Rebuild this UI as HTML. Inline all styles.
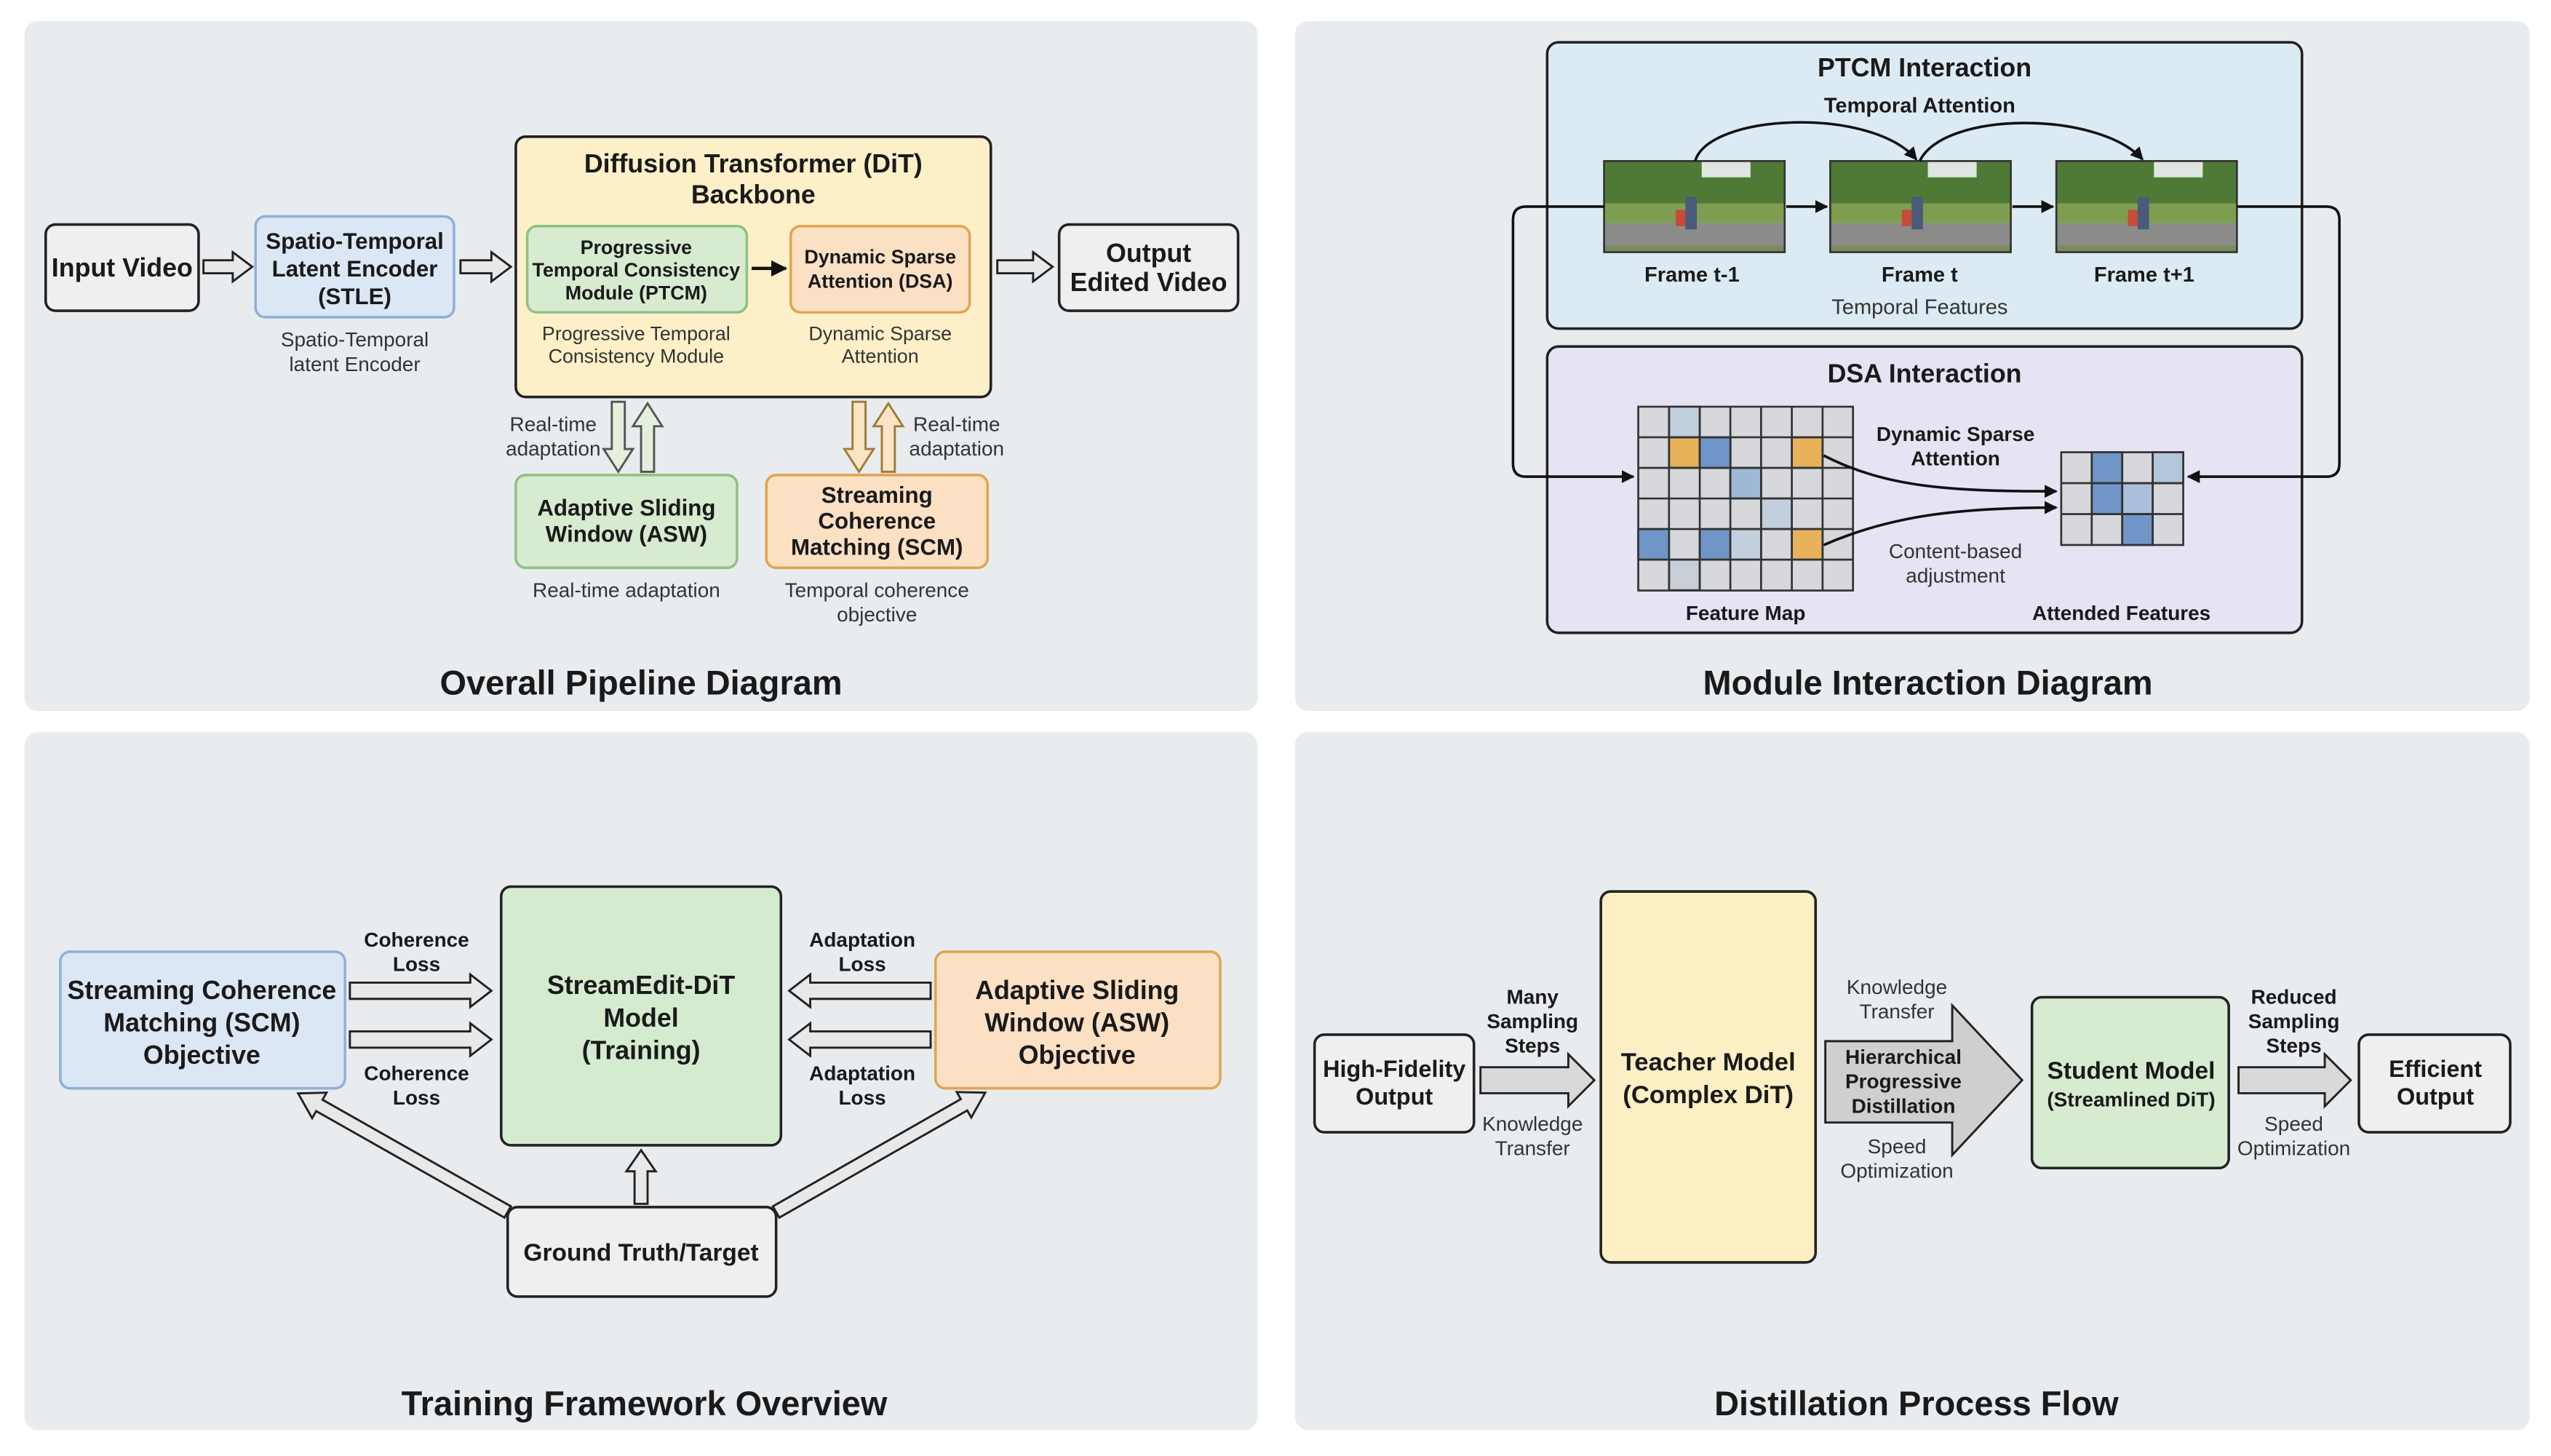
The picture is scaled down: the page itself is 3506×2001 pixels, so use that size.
<!DOCTYPE html>
<html><head><meta charset="utf-8"><style>
html,body{margin:0;padding:0;background:#fff;}
svg{display:block;}
text{font-family:"Liberation Sans Narrow","Liberation Sans",sans-serif;fill:#1a1a1a;text-anchor:middle;}
.b{font-weight:bold;}
.n{fill:#333;}
</style></head><body>
<svg width="3506" height="2001" viewBox="0 0 1568 895" xmlns="http://www.w3.org/2000/svg">
<defs>
<marker id="ah" viewBox="0 0 10 10" refX="9" refY="5" markerWidth="5" markerHeight="5" orient="auto"><path d="M0,0 L10,5 L0,10 z" fill="#111"/></marker>
<g id="fr">
<rect x="0" y="0" width="111" height="56" fill="#d8ddd6"/>
<rect x="0" y="0" width="111" height="30" fill="#4f7a36"/>
<rect x="60" y="0" width="30" height="10" fill="#dfe6e2"/>
<rect x="0" y="26" width="111" height="12" fill="#7d9e50"/>
<rect x="0" y="38" width="111" height="18" fill="#8b8c89"/>
<rect x="0" y="52" width="111" height="4" fill="#7a8a5a"/>
<rect x="50" y="22" width="7" height="20" fill="#4a5a7a"/>
<rect x="44" y="30" width="6" height="10" fill="#c84a3a"/>
<rect x="0" y="0" width="111" height="56" fill="none" stroke="#333" stroke-width="1.2"/>
</g>
</defs>
<rect width="1568" height="895" fill="#fff"/>
<!-- panels -->
<rect x="15" y="13" width="758" height="424" rx="8" fill="#e9ecee"/>
<rect x="796" y="13" width="759" height="424" rx="8" fill="#e9ecee"/>
<rect x="15" y="450" width="758" height="429" rx="8" fill="#e9ecee"/>
<rect x="796" y="450" width="759" height="429" rx="8" fill="#e9ecee"/>

<!-- ===== Panel 1 ===== -->
<g stroke="#222" stroke-width="1.6">
<rect x="28" y="138" width="94" height="53" rx="6" fill="#efefef"/>
<rect x="157" y="133" width="122" height="62" rx="6" fill="#dbe7f5" stroke="#8fb0d8"/>
<rect x="317" y="84" width="292" height="160" rx="6" fill="#fdf0c8"/>
<rect x="324" y="139" width="135" height="53" rx="6" fill="#d6ebd0" stroke="#8fc184"/>
<rect x="486" y="139" width="110" height="53" rx="6" fill="#fbe0c4" stroke="#e0a552"/>
<rect x="651" y="138" width="110" height="53" rx="6" fill="#efefef"/>
<rect x="317" y="292" width="136" height="57" rx="6" fill="#d6ebd0" stroke="#8fc184"/>
<rect x="471" y="292" width="136" height="57" rx="6" fill="#fbe0c4" stroke="#e0a552"/>
</g>
<g fill="#e8e8e8" stroke="#222" stroke-width="1.3">
<polygon points="125,160 143,160 143,155 155,164 143,173 143,168 125,168"/>
<polygon points="283,160 302,160 302,155 314,164 302,173 302,168 283,168"/>
<polygon points="613,160 635,160 635,155 647,164 635,173 635,168 613,168"/>
</g>
<g stroke-width="1.3">
<polygon points="376,247 384,247 384,276 389,276 380,290 371,276 376,276" fill="#e4f0dc" stroke="#555"/>
<polygon points="394,290 402,290 402,262 407,262 398,248 389,262 394,262" fill="#e4f0dc" stroke="#555"/>
<polygon points="524,247 532,247 532,276 537,276 528,290 519,276 524,276" fill="#fbe3c6" stroke="#a07a3a"/>
<polygon points="542,290 550,290 550,262 555,262 546,248 537,262 542,262" fill="#fbe3c6" stroke="#a07a3a"/>
</g>
<line x1="462" y1="165" x2="483" y2="165" stroke="#111" stroke-width="2" marker-end="url(#ah)"/>
<text x="75" y="170" class="b" font-size="16">Input Video</text>
<text x="218" y="153" class="b" font-size="14">Spatio-Temporal</text>
<text x="218" y="170" class="b" font-size="14">Latent Encoder</text>
<text x="218" y="187" class="b" font-size="14">(STLE)</text>
<text x="218" y="213" class="n" font-size="12.5">Spatio-Temporal</text>
<text x="218" y="228" class="n" font-size="12.5">latent Encoder</text>
<text x="463" y="106" class="b" font-size="16">Diffusion Transformer (DiT)</text>
<text x="463" y="125" class="b" font-size="16">Backbone</text>
<text x="391" y="156" class="b" font-size="12">Progressive</text>
<text x="391" y="170" class="b" font-size="12">Temporal Consistency</text>
<text x="391" y="184" class="b" font-size="12">Module (PTCM)</text>
<text x="541" y="162" class="b" font-size="12">Dynamic Sparse</text>
<text x="541" y="177" class="b" font-size="12">Attention (DSA)</text>
<text x="391" y="209" class="n" font-size="12">Progressive Temporal</text>
<text x="391" y="223" class="n" font-size="12">Consistency Module</text>
<text x="541" y="209" class="n" font-size="12">Dynamic Sparse</text>
<text x="541" y="223" class="n" font-size="12">Attention</text>
<text x="706" y="161" class="b" font-size="16">Output</text>
<text x="706" y="179" class="b" font-size="16">Edited Video</text>
<text x="340" y="265" class="n" font-size="12.5">Real-time</text>
<text x="340" y="280" class="n" font-size="12.5">adaptation</text>
<text x="588" y="265" class="n" font-size="12.5">Real-time</text>
<text x="588" y="280" class="n" font-size="12.5">adaptation</text>
<text x="385" y="317" class="b" font-size="14">Adaptive Sliding</text>
<text x="385" y="333" class="b" font-size="14">Window (ASW)</text>
<text x="539" y="309" class="b" font-size="14">Streaming</text>
<text x="539" y="325" class="b" font-size="14">Coherence</text>
<text x="539" y="341" class="b" font-size="14">Matching (SCM)</text>
<text x="385" y="367" class="n" font-size="12.5">Real-time adaptation</text>
<text x="539" y="367" class="n" font-size="12.5">Temporal coherence</text>
<text x="539" y="382" class="n" font-size="12.5">objective</text>
<text x="394" y="427" class="b" font-size="21">Overall Pipeline Diagram</text>

<!-- ===== Panel 2 ===== -->
<rect x="951" y="26" width="464" height="176" rx="7" fill="#dcebf3" stroke="#222" stroke-width="1.6"/>
<rect x="951" y="213" width="464" height="176" rx="7" fill="#e6e3f2" stroke="#222" stroke-width="1.6"/>
<text x="1183" y="47" class="b" font-size="16">PTCM Interaction</text>
<text x="1180" y="69" class="b" font-size="13">Temporal Attention</text>
<use href="#fr" x="986" y="99"/>
<use href="#fr" x="1125" y="99"/>
<use href="#fr" x="1264" y="99"/>
<g stroke="#111" stroke-width="1.6" fill="none">
<line x1="1098" y1="127" x2="1123" y2="127" marker-end="url(#ah)"/>
<line x1="1237" y1="127" x2="1262" y2="127" marker-end="url(#ah)"/>
<path d="M1042,99 C1050,70 1150,65 1178,98" marker-end="url(#ah)"/>
<path d="M1180,99 C1195,68 1290,68 1317,98" marker-end="url(#ah)"/>
<path d="M986,127 L938,127 Q930,127 930,135 L930,285 Q930,293 938,293 L1004,293" marker-end="url(#ah)"/>
<path d="M1375,127 L1430,127 Q1438,127 1438,135 L1438,285 Q1438,293 1430,293 L1345,293" marker-end="url(#ah)"/>
</g>
<text x="1040" y="173" class="b" font-size="13">Frame t-1</text>
<text x="1180" y="173" class="b" font-size="13">Frame t</text>
<text x="1318" y="173" class="b" font-size="13">Frame t+1</text>
<text x="1180" y="193" class="n" font-size="13">Temporal Features</text>
<text x="1183" y="235" class="b" font-size="16">DSA Interaction</text>
<g stroke="#333" stroke-width="1.2">
<rect x="1007" y="250" width="132" height="113" fill="#d6d8db"/>
<!-- colored cells -->
<rect x="1025.9" y="250" width="18.9" height="18.8" fill="#c2cfdc"/>
<rect x="1025.9" y="268.8" width="18.9" height="18.8" fill="#e8b25a"/>
<rect x="1044.8" y="268.8" width="18.9" height="18.8" fill="#6f96c6"/>
<rect x="1101.4" y="268.8" width="18.9" height="18.8" fill="#e8b25a"/>
<rect x="1063.6" y="287.6" width="18.9" height="18.8" fill="#9fb8d6"/>
<rect x="1082.5" y="306.4" width="18.9" height="18.8" fill="#c2cfdc"/>
<rect x="1007" y="325.2" width="18.9" height="18.8" fill="#6f96c6"/>
<rect x="1044.8" y="325.2" width="18.9" height="18.8" fill="#6f96c6"/>
<rect x="1063.6" y="325.2" width="18.9" height="18.8" fill="#c2cfdc"/>
<rect x="1101.4" y="325.2" width="18.9" height="18.8" fill="#e8b25a"/>
<rect x="1025.9" y="344" width="18.9" height="18.8" fill="#c8cfd6"/>
</g>
<g stroke="#333" stroke-width="1.2">
<path d="M1025.9,250V363M1044.8,250V363M1063.6,250V363M1082.5,250V363M1101.4,250V363M1120.3,250V363M1007,268.8H1139M1007,287.6H1139M1007,306.4H1139M1007,325.2H1139M1007,344H1139"/>
<rect x="1267" y="278" width="75" height="57" fill="#d6d8db"/>
<rect x="1285.75" y="278" width="18.75" height="19" fill="#6f96c6"/>
<rect x="1323.25" y="278" width="18.75" height="19" fill="#b3c6dc"/>
<rect x="1285.75" y="297" width="18.75" height="19" fill="#6f96c6"/>
<rect x="1304.5" y="297" width="18.75" height="19" fill="#a9bfdb"/>
<rect x="1304.5" y="316" width="18.75" height="19" fill="#6f96c6"/>
<path d="M1285.75,278V335M1304.5,278V335M1323.25,278V335M1267,297H1342M1267,316H1342" fill="none"/>
</g>
<g stroke="#111" stroke-width="1.6" fill="none">
<path d="M1121,280 C1160,300 1200,302 1264,302" marker-end="url(#ah)"/>
<path d="M1121,335 C1160,318 1200,312 1264,312" marker-end="url(#ah)"/>
</g>
<text x="1202" y="271" class="b" font-size="12.5">Dynamic Sparse</text>
<text x="1202" y="286" class="b" font-size="12.5">Attention</text>
<text x="1202" y="343" class="n" font-size="12.5">Content-based</text>
<text x="1202" y="358" class="n" font-size="12.5">adjustment</text>
<text x="1073" y="381" class="b" font-size="12.5">Feature Map</text>
<text x="1304" y="381" class="b" font-size="12.5">Attended Features</text>
<text x="1185" y="427" class="b" font-size="21">Module Interaction Diagram</text>

<!-- ===== Panel 3 ===== -->
<g stroke-width="1.6">
<rect x="37" y="585" width="175" height="84" rx="6" fill="#dbe7f5" stroke="#8fb0d8"/>
<rect x="308" y="545" width="172" height="159" rx="6" fill="#d4ebcf" stroke="#222"/>
<rect x="575" y="585" width="175" height="84" rx="6" fill="#fbe0c4" stroke="#e0a552"/>
<rect x="312" y="742" width="165" height="55" rx="6" fill="#efefef" stroke="#222"/>
</g>
<g fill="#e8e8e8" stroke="#222" stroke-width="1.3">
<polygon points="215,604 289,604 289,599 302,609 289,619 289,614 215,614"/>
<polygon points="215,634 289,634 289,629 302,639 289,649 289,644 215,644"/>
<polygon points="572,604 498,604 498,599 485,609 498,619 498,614 572,614"/>
<polygon points="572,634 498,634 498,629 485,639 498,649 498,644 572,644"/>
<polygon points="390,740 390,720 385,720 394,707 403,720 398,720 398,740"/>
<g transform="translate(312,745) rotate(209.5)"><polygon points="0,-4 133,-4 133,-9 148,0 133,9 133,4 0,4"/></g>
<g transform="translate(477,745) rotate(-29.7)"><polygon points="0,-4 133,-4 133,-9 148,0 133,9 133,4 0,4"/></g>
</g>
<text x="124" y="614" class="b" font-size="16">Streaming Coherence</text>
<text x="124" y="634" class="b" font-size="16">Matching (SCM)</text>
<text x="124" y="654" class="b" font-size="16">Objective</text>
<text x="394" y="611" class="b" font-size="16">StreamEdit-DiT</text>
<text x="394" y="631" class="b" font-size="16">Model</text>
<text x="394" y="651" class="b" font-size="16">(Training)</text>
<text x="662" y="614" class="b" font-size="16">Adaptive Sliding</text>
<text x="662" y="634" class="b" font-size="16">Window (ASW)</text>
<text x="662" y="654" class="b" font-size="16">Objective</text>
<text x="256" y="582" class="b" font-size="12.5">Coherence</text>
<text x="256" y="597" class="b" font-size="12.5">Loss</text>
<text x="256" y="664" class="b" font-size="12.5">Coherence</text>
<text x="256" y="679" class="b" font-size="12.5">Loss</text>
<text x="530" y="582" class="b" font-size="12.5">Adaptation</text>
<text x="530" y="597" class="b" font-size="12.5">Loss</text>
<text x="530" y="664" class="b" font-size="12.5">Adaptation</text>
<text x="530" y="679" class="b" font-size="12.5">Loss</text>
<text x="394" y="775" class="b" font-size="15">Ground Truth/Target</text>
<text x="396" y="870" class="b" font-size="21">Training Framework Overview</text>

<!-- ===== Panel 4 ===== -->
<g stroke="#222" stroke-width="1.6">
<rect x="808" y="636" width="98" height="60" rx="6" fill="#efefef"/>
<rect x="984" y="548" width="132" height="228" rx="6" fill="#fcefc4"/>
<rect x="1249" y="613" width="121" height="105" rx="6" fill="#d6ebd0"/>
<rect x="1450" y="636" width="93" height="60" rx="6" fill="#efefef"/>
</g>
<g fill="#d9d9d9" stroke="#222" stroke-width="1.3">
<polygon points="910,656 964,656 964,648 980,664 964,680 964,672 910,672"/>
<polygon points="1376,656 1429,656 1429,648 1445,664 1429,680 1429,672 1376,672"/>
<polygon points="1122,640 1200,640 1200,618 1243,664 1200,710 1200,690 1122,690" fill="#cfcfcf"/>
</g>
<text x="857" y="662" class="b" font-size="14.5">High-Fidelity</text>
<text x="857" y="679" class="b" font-size="14.5">Output</text>
<text x="942" y="617" class="b" font-size="12.5">Many</text>
<text x="942" y="632" class="b" font-size="12.5">Sampling</text>
<text x="942" y="647" class="b" font-size="12.5">Steps</text>
<text x="942" y="695" class="n" font-size="12.5">Knowledge</text>
<text x="942" y="710" class="n" font-size="12.5">Transfer</text>
<text x="1050" y="658" class="b" font-size="15.5">Teacher Model</text>
<text x="1050" y="678" class="b" font-size="15.5">(Complex DiT)</text>
<text x="1166" y="611" class="n" font-size="12.5">Knowledge</text>
<text x="1166" y="626" class="n" font-size="12.5">Transfer</text>
<text x="1170" y="654" class="b" font-size="12.5">Hierarchical</text>
<text x="1170" y="669" class="b" font-size="12.5">Progressive</text>
<text x="1170" y="684" class="b" font-size="12.5">Distillation</text>
<text x="1166" y="709" class="n" font-size="12.5">Speed</text>
<text x="1166" y="724" class="n" font-size="12.5">Optimization</text>
<text x="1310" y="663" class="b" font-size="15">Student Model</text>
<text x="1310" y="680" class="b" font-size="12.5">(Streamlined DiT)</text>
<text x="1410" y="617" class="b" font-size="12.5">Reduced</text>
<text x="1410" y="632" class="b" font-size="12.5">Sampling</text>
<text x="1410" y="647" class="b" font-size="12.5">Steps</text>
<text x="1410" y="695" class="n" font-size="12.5">Speed</text>
<text x="1410" y="710" class="n" font-size="12.5">Optimization</text>
<text x="1497" y="662" class="b" font-size="14.5">Efficient</text>
<text x="1497" y="679" class="b" font-size="14.5">Output</text>
<text x="1178" y="870" class="b" font-size="21">Distillation Process Flow</text>
</svg>
</body></html>
